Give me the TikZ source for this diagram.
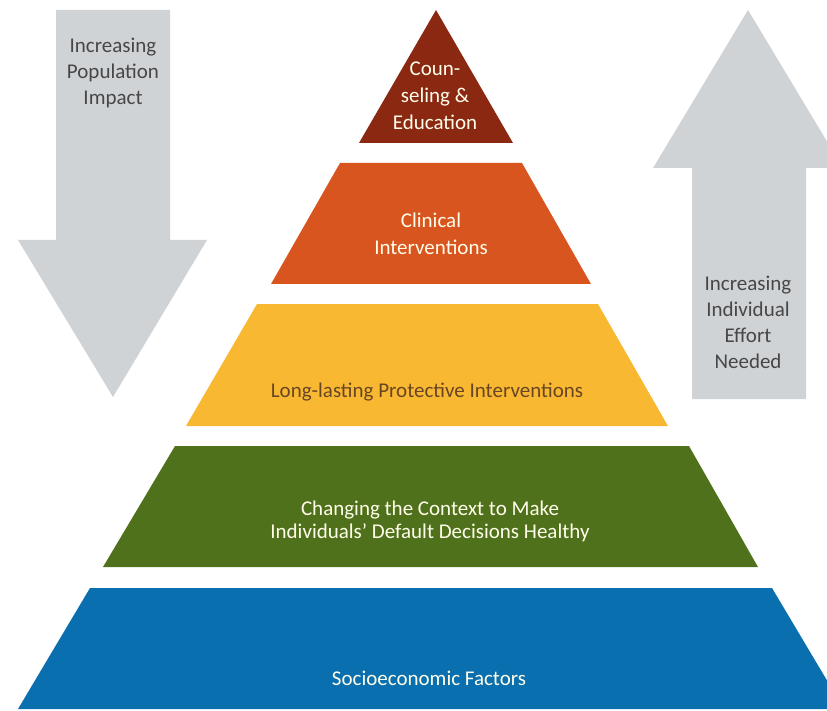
\documentclass[tikz,border=0pt]{standalone}
\usepackage{fontspec}
\setmainfont{Carlito}
\definecolor{grayA}{RGB}{208,211,214}
\definecolor{redA}{RGB}{139,40,18}
\definecolor{orangeA}{RGB}{217,85,31}
\definecolor{yellowA}{RGB}{248,184,50}
\definecolor{greenA}{RGB}{80,113,27}
\definecolor{blueA}{RGB}{10,111,174}
\tikzset{
    TX1/.style ={align=center, text=white!92!yellow, font=\fontsize{21}{27}\selectfont},
    TX2/.style ={align=center, text=white!92!yellow, font=\fontsize{21}{23}\selectfont},
    TX3/.style ={align=center, text=brown!55!black, font=\fontsize{21}{23}\selectfont},
    TX4/.style ={align=center, text=black!72, font=\fontsize{21}{26}\selectfont}}

\begin{document}
\begin{tikzpicture}[x=1pt,y=-1pt]
        \useasboundingbox (0,0) rectangle (827,711);
        \clip (0,0) rectangle (827,711);
        % arrows
        \fill[grayA] (56,10) -- (170,10) -- (170,240) -- (207,240) -- (113,397) -- (18,240) -- (56,240) -- cycle;
        \fill[grayA] (748,10) -- (843,168) -- (806,168) -- (806,399) -- (692,399) -- (692,168) -- (653,168) -- cycle;
        % pyramid
        \fill[redA] (436,10) -- (513,143) -- (359,143) -- cycle;
        \fill[orangeA] (340,163) -- (522,163) -- (591,284) -- (271,284) -- cycle;
        \fill[yellowA] (257,304) -- (598,304) -- (668,426) -- (186,426) -- cycle;
        \fill[greenA] (175,446) -- (689,446) -- (758,567) -- (103,567) -- cycle;
        \fill[blueA] (90,588) -- (772,588) -- (844,709) -- (18,709) -- cycle;
        \node[TX1](1) at (435,96) {Coun-\\seling \&\\Education};
        \node[TX1](2) at (431,234) {Clinical\\Interventions};
        \node[TX3](3) at (427,392) {Long-lasting Protective Interventions};
        \node[TX2](4) at (430,521) {Changing the Context to Make\\Individuals' Default Decisions Healthy};
        \node[TX2](5) at (429,678) {Socioeconomic Factors};
        \node[TX4](6) at (113,73) {Increasing\\Population\\Impact};
        \node[TX4](7) at (748,322) {Increasing\\Individual\\Effort\\Needed};
    \end{tikzpicture}
\end{document}
